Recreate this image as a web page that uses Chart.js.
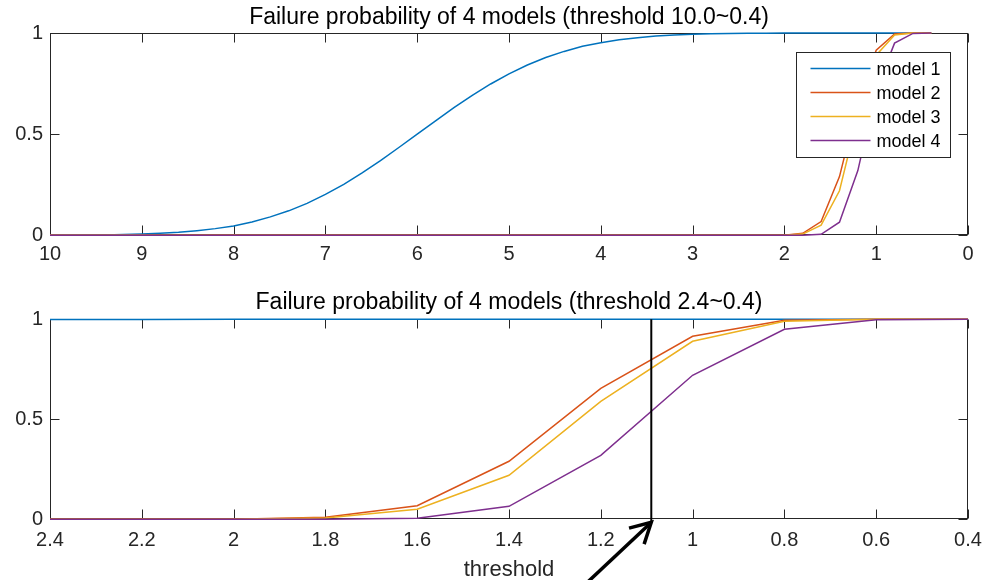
<!DOCTYPE html>
<html>
<head>
<meta charset="utf-8">
<title>Failure probability of 4 models</title>
<script src="https://cdn.jsdelivr.net/npm/chart.js@4.4.1/dist/chart.umd.min.js"></script>
<style>
  html, body { margin: 0; padding: 0; background: #fff; }
  #page { position: relative; width: 988px; height: 580px; overflow: hidden; }
  .panel { position: absolute; left: 0; width: 988px; }
  #topPanel { top: 0; height: 270px; }
  #bottomPanel { top: 270px; height: 310px; }
</style>
</head>
<body>
<div id="page">
  <div class="panel" id="topPanel"><canvas id="topChart"></canvas></div>
  <div class="panel" id="bottomPanel"><canvas id="bottomChart"></canvas></div>
</div>
<script>
// ============================== data

const thresholds = [
  10, 9.8, 9.6, 9.4, 9.2, 9, 8.8, 8.6, 8.4, 8.2,
  8, 7.8, 7.6, 7.4, 7.2, 7, 6.8, 6.6, 6.4, 6.2,
  6, 5.8, 5.6, 5.4, 5.2, 5, 4.8, 4.6, 4.4, 4.2,
  4, 3.8, 3.6, 3.4, 3.2, 3, 2.8, 2.6, 2.4, 2.2,
  2, 1.8, 1.6, 1.4, 1.2, 1, 0.8, 0.6, 0.4
];

const model1 = [
  0, 0.001, 0.001, 0.002, 0.004, 0.006, 0.010, 0.015, 0.023, 0.033,
  0.046, 0.066, 0.091, 0.121, 0.158, 0.202, 0.252, 0.308, 0.369, 0.434,
  0.5, 0.566, 0.631, 0.692, 0.748, 0.798, 0.842, 0.879, 0.909, 0.934,
  0.952, 0.967, 0.977, 0.985, 0.990, 0.994, 0.996, 0.998, 0.999, 0.999,
  1, 1, 1, 1, 1, 1, 1, 1, 1
];

const model2 = [
  0, 0, 0, 0, 0, 0, 0, 0, 0, 0,
  0, 0, 0, 0, 0, 0, 0, 0, 0, 0,
  0, 0, 0, 0, 0, 0, 0, 0, 0, 0,
  0, 0, 0, 0, 0, 0, 0, 0, 0, 0,
  0, 0.01, 0.068, 0.29, 0.655, 0.915, 0.995, 1, 1
];

const model3 = [
  0, 0, 0, 0, 0, 0, 0, 0, 0, 0,
  0, 0, 0, 0, 0, 0, 0, 0, 0, 0,
  0, 0, 0, 0, 0, 0, 0, 0, 0, 0,
  0, 0, 0, 0, 0, 0, 0, 0, 0, 0,
  0, 0.006, 0.05, 0.22, 0.59, 0.89, 0.99, 1, 1
];

const model4 = [
  0, 0, 0, 0, 0, 0, 0, 0, 0, 0,
  0, 0, 0, 0, 0, 0, 0, 0, 0, 0,
  0, 0, 0, 0, 0, 0, 0, 0, 0, 0,
  0, 0, 0, 0, 0, 0, 0, 0, 0, 0,
  0, 0, 0.005, 0.065, 0.32, 0.72, 0.95, 0.998, 1
];

const modelNames = ['model 1', 'model 2', 'model 3', 'model 4'];
const modelColors = ['#0072BD', '#D95319', '#EDB120', '#7E2F8E'];

const wideTicks = [10, 9, 8, 7, 6, 5, 4, 3, 2, 1, 0];
const zoomTicks = [2.4, 2.2, 2, 1.8, 1.6, 1.4, 1.2, 1, 0.8, 0.6, 0.4];
const probTicks = [0, 0.5, 1];

const markerThreshold = 1.09;   // the black vertical line in the lower plot


// ============================== helpers / plugins

Chart.defaults.font.family = "'Liberation Sans', Arial, sans-serif";
const axisColor = '#262626';
const tickLen = 9;

// matlab-like box with inward ticks on all four sides
const axesBox = {
  id: 'axesBox',
  beforeDatasetsDraw(chart) {
    const { ctx, chartArea: a, scales: { x, y } } = chart;
    ctx.save();
    ctx.strokeStyle = axisColor;
    ctx.lineWidth = 1;
    const l = Math.round(a.left) + 0.5, r = Math.round(a.right) - 0.5;
    const t = Math.round(a.top) + 0.5, b = Math.round(a.bottom) - 0.5;
    ctx.strokeRect(l, t, r - l, b - t);
    ctx.beginPath();
    x.ticks.forEach(tk => {
      const px = Math.round(x.getPixelForValue(tk.value)) + 0.5;
      ctx.moveTo(px, b); ctx.lineTo(px, b - tickLen);
      ctx.moveTo(px, t); ctx.lineTo(px, t + tickLen);
    });
    y.ticks.forEach(tk => {
      const py = Math.round(y.getPixelForValue(tk.value)) + 0.5;
      ctx.moveTo(l, py); ctx.lineTo(l + tickLen, py);
      ctx.moveTo(r, py); ctx.lineTo(r - tickLen, py);
    });
    ctx.stroke();
    ctx.restore();
  }
};

// legend box inside the upper plot, top right
const legendBox = {
  id: 'legendBox',
  afterDraw(chart) {
    const { ctx, chartArea: a } = chart;
    const w = 154, h = 105;
    const left = Math.round(a.right - 18 - w) + 0.5;
    const top = Math.round(a.top + 19) + 0.5;
    ctx.save();
    ctx.fillStyle = '#fff';
    ctx.fillRect(left, top, w, h);
    ctx.strokeStyle = axisColor;
    ctx.lineWidth = 1;
    ctx.strokeRect(left, top, w, h);
    ctx.font = "18px 'Liberation Sans', Arial, sans-serif";
    ctx.textBaseline = 'middle';
    ctx.textAlign = 'left';
    chart.data.datasets.forEach((ds, i) => {
      const rowY = top + 16 + i * 24;
      ctx.strokeStyle = ds.borderColor;
      ctx.lineWidth = 1.5;
      ctx.beginPath();
      ctx.moveTo(left + 14, rowY);
      ctx.lineTo(left + 74, rowY);
      ctx.stroke();
      ctx.fillStyle = '#000';
      ctx.fillText(ds.label, left + 80, rowY + 2);
    });
    ctx.restore();
  }
};

// vertical marker + arrow in the lower plot
const markerLine = {
  id: 'markerLine',
  afterDatasetsDraw(chart) {
    const { ctx, chartArea: a, scales: { x } } = chart;
    const px = x.getPixelForValue(markerThreshold);
    ctx.save();
    ctx.strokeStyle = '#000';
    ctx.lineWidth = 2;
    ctx.beginPath();
    ctx.moveTo(px, a.top);
    ctx.lineTo(px, a.bottom + 2);
    ctx.stroke();
    ctx.restore();
  },
  afterDraw(chart) {
    const { ctx, chartArea: a, scales: { x } } = chart;
    const tipX = x.getPixelForValue(markerThreshold);
    const tipY = a.bottom + 3;
    const tailX = tipX - 66, tailY = tipY + 62;
    const ang = Math.atan2(tailY - tipY, tailX - tipX);
    const barb = 23, spread = 0.5;
    ctx.save();
    ctx.strokeStyle = '#000';
    ctx.lineWidth = 3.5;
    ctx.lineCap = 'butt';
    ctx.beginPath();
    ctx.moveTo(tailX, tailY);
    ctx.lineTo(tipX - 2, tipY + 2);
    ctx.stroke();
    ctx.lineJoin = 'miter';
    ctx.beginPath();
    ctx.moveTo(tipX + barb * Math.cos(ang + spread), tipY + barb * Math.sin(ang + spread));
    ctx.lineTo(tipX, tipY);
    ctx.lineTo(tipX + barb * Math.cos(ang - spread), tipY + barb * Math.sin(ang - spread));
    ctx.stroke();
    ctx.restore();
  }
};

function buildDatasets() {
  const series = [model1, model2, model3, model4];
  return modelNames.map((name, i) => ({
    label: name,
    data: thresholds.map((t, j) => ({ x: t, y: series[i][j] })),
    borderColor: modelColors[i],
    backgroundColor: modelColors[i],
    borderWidth: 1.5,
    pointRadius: 0,
    tension: 0,
    fill: false,
    order: modelNames.length - i,   // model 4 ends up on top, like matlab
    clip: { left: 0, right: 0, top: 3, bottom: 3 }
  }));
}

function buildChart(canvasId, cfg) {
  return new Chart(document.getElementById(canvasId), {
    type: 'line',
    data: { datasets: buildDatasets() },
    options: {
      responsive: true,
      maintainAspectRatio: false,
      animation: false,
      layout: { padding: { top: 0, left: 0, right: 20, bottom: 0 } },
      plugins: {
        legend: { display: false },
        tooltip: { enabled: false },
        title: {
          display: true,
          fullSize: false,      // centre over the axes, not the canvas
          text: cfg.title,
          color: '#000',
          font: { size: 23, weight: 'normal' },
          padding: cfg.titlePadding
        }
      },
      scales: {
        x: {
          type: 'linear',
          reverse: true,
          min: cfg.xMin,
          max: cfg.xMax,
          afterBuildTicks: s => { s.ticks = cfg.xTicks.map(v => ({ value: v })); },
          afterFit: s => {
            s.height = cfg.xAxisHeight;
            s.paddingLeft = 0;    // end labels may stick out, like matlab
            s.paddingRight = 0;
          },
          grid: { display: false, drawTicks: false },
          border: { display: false },
          ticks: {
            autoSkip: false, maxRotation: 0,
            color: axisColor, font: { size: 20 },
            padding: cfg.xTickPadding,
            callback: v => String(v)
          },
          title: cfg.xTitle
        },
        y: {
          type: 'linear',
          min: 0,
          max: 1,
          afterBuildTicks: s => { s.ticks = probTicks.map(v => ({ value: v })); },
          afterFit: s => { s.width = 50; s.paddingTop = 0; s.paddingBottom = 0; },
          grid: { display: false, drawTicks: false },
          border: { display: false },
          ticks: {
            color: axisColor, font: { size: 20 },
            padding: 7,
            callback: v => String(v)
          }
        }
      }
    },
    plugins: cfg.plugins
  });
}


// ============================== upper plot (threshold 10.0~0.4)

const topChart = buildChart('topChart', {
  title: 'Failure probability of 4 models (threshold 10.0~0.4)',
  titlePadding: { top: 3.7, bottom: 1.7 },
  xMin: 0, xMax: 10,
  xTicks: wideTicks,
  xAxisHeight: 34.7,
  xTickPadding: 7.5,
  xTitle: { display: false },
  plugins: [axesBox, legendBox]
});


// ============================== lower plot (threshold 2.4~0.4)

const bottomChart = buildChart('bottomChart', {
  title: 'Failure probability of 4 models (threshold 2.4~0.4)',
  titlePadding: { top: 18.7, bottom: 3 },
  xMin: 0.4, xMax: 2.4,
  xTicks: zoomTicks,
  xAxisHeight: 60.7,
  xTickPadding: 9.5,
  xTitle: {
    display: true,
    text: 'threshold',
    color: axisColor,
    font: { size: 22 },
    padding: { top: 0, bottom: -3 }
  },
  plugins: [axesBox, markerLine]
});
</script>
</body>
</html>
